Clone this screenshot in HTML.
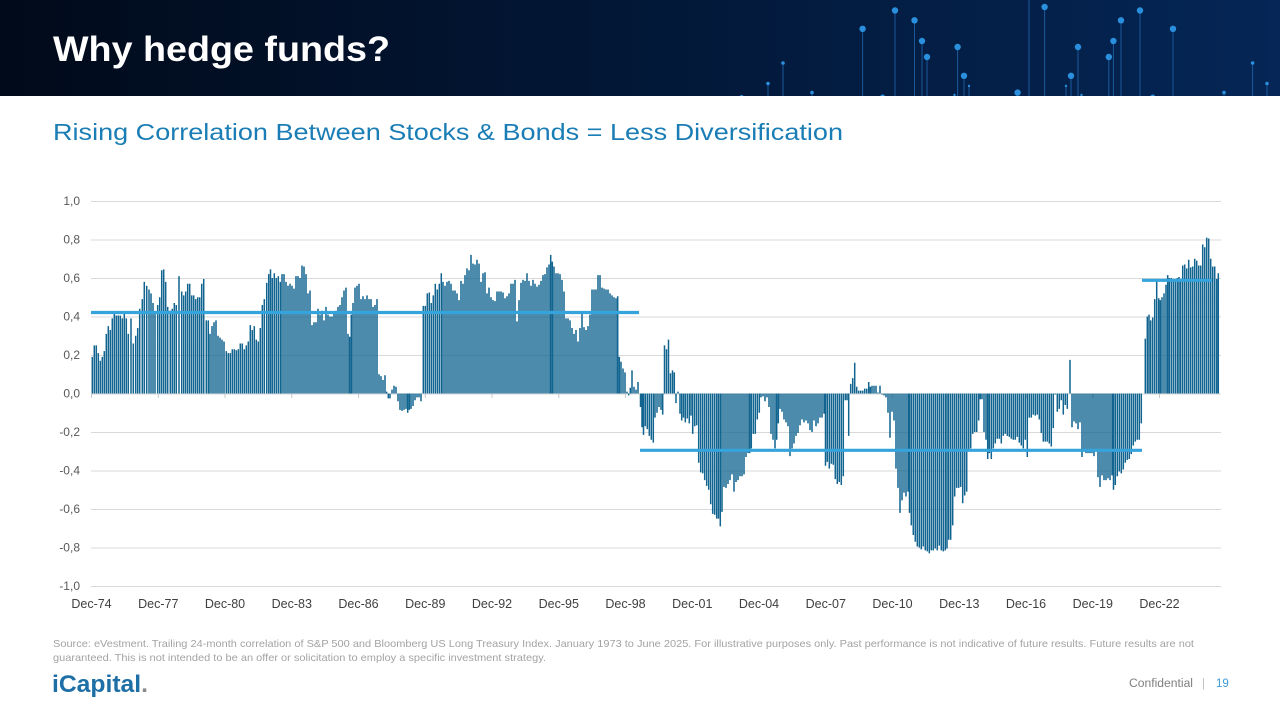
<!DOCTYPE html>
<html><head><meta charset="utf-8"><style>
html,body{margin:0;padding:0;background:#fff;width:1280px;height:720px;overflow:hidden}
svg{display:block}
text{font-family:"Liberation Sans",Arial,sans-serif}
</style></head><body>
<svg width="1280" height="720" viewBox="0 0 1280 720" xmlns="http://www.w3.org/2000/svg">
<defs><linearGradient id="hg" x1="0" x2="1" y1="0" y2="0"><stop offset="0" stop-color="#010a1a"/><stop offset=".45" stop-color="#021634"/><stop offset="1" stop-color="#052656"/></linearGradient></defs>
<rect width="1280" height="96" fill="url(#hg)"/>
<g stroke="#1d5fa4" stroke-width="1" opacity=".9">
<path d="M862.6 96V28.8M895 96V10.5M914.5 96V20.3M922 96V41M927 96V57M957.6 96V47M964 96V75.8M1017.6 96V92.6M1044.6 96V7M1071 96V75.8M1078 96V47M1108.8 96V57M1113.4 96V41M1121 96V20.3M1140 96V10.5M1173 96V28.8M768 96V83.5M783 96V63M812 96V92.6M1224 96V92.6M1252.6 96V63M1267 96V83.5M954.5 96V95M969 96V86M1066 96V86M1081.5 96V95M1029 96V0"/>
</g>
<g fill="#2a8fdc">
<circle cx="862.6" cy="28.8" r="3.2"/><circle cx="895" cy="10.5" r="3.2"/><circle cx="914.5" cy="20.3" r="3.2"/><circle cx="922" cy="41" r="3.2"/><circle cx="927" cy="57" r="3.2"/><circle cx="957.6" cy="47" r="3.2"/><circle cx="964" cy="75.8" r="3.2"/><circle cx="1017.6" cy="92.6" r="3.2"/><circle cx="1044.6" cy="7" r="3.2"/><circle cx="1071" cy="75.8" r="3.2"/><circle cx="1078" cy="47" r="3.2"/><circle cx="1108.8" cy="57" r="3.2"/><circle cx="1113.4" cy="41" r="3.2"/><circle cx="1121" cy="20.3" r="3.2"/><circle cx="1140" cy="10.5" r="3.2"/><circle cx="1173" cy="28.8" r="3.2"/>
<circle cx="768" cy="83.5" r="1.8"/><circle cx="783" cy="63" r="1.8"/><circle cx="812" cy="92.6" r="1.8"/><circle cx="1224" cy="92.6" r="1.8"/><circle cx="1252.6" cy="63" r="1.8"/><circle cx="1267" cy="83.5" r="1.8"/>
<circle cx="954.5" cy="95" r="1.2"/><circle cx="969" cy="86" r="1.2"/><circle cx="1066" cy="86" r="1.2"/><circle cx="1081.5" cy="95" r="1.2"/>
<circle cx="741.6" cy="97" r="2"/><circle cx="882.6" cy="97" r="2.5"/><circle cx="1152.7" cy="97" r="2.5"/>
</g>
<rect y="96" width="1280" height="624" fill="#fff"/>
<text x="53" y="61" font-weight="bold" font-size="35" fill="#fff" textLength="337" lengthAdjust="spacingAndGlyphs">Why hedge funds?</text>
<text x="53" y="140" font-size="23" fill="#1a7db5" textLength="790" lengthAdjust="spacingAndGlyphs">Rising Correlation Between Stocks &amp; Bonds = Less Diversification</text>

<!-- gridlines -->
<g stroke="#d9d9d9" stroke-width="1">
<path d="M91 201.5H1221M91 240H1221M91 278.5H1221M91 317H1221M91 355.5H1221M91 394H1221M91 432.5H1221M91 471H1221M91 509.5H1221M91 548H1221M91 586.5H1221"/>
</g>
<g stroke="#c8c8c8" stroke-width="1">
<path d="M91.5 394V398M158.3 394V398M225 394V398M291.8 394V398M358.5 394V398M425.3 394V398M492 394V398M558.8 394V398M625.5 394V398M692.3 394V398M759 394V398M825.8 394V398M892.5 394V398M959.3 394V398M1026 394V398M1092.8 394V398M1159.5 394V398"/>
</g>
<g font-size="12" fill="#595959" text-anchor="end">
<text x="80" y="205">1,0</text><text x="80" y="243.5">0,8</text><text x="80" y="282">0,6</text><text x="80" y="320.5">0,4</text><text x="80" y="359">0,2</text><text x="80" y="397.5">0,0</text><text x="80" y="436">-0,2</text><text x="80" y="474.5">-0,4</text><text x="80" y="513">-0,6</text><text x="80" y="551.5">-0,8</text><text x="80" y="590">-1,0</text>
</g>
<g font-size="12.5" fill="#404040" text-anchor="middle">
<text x="91.5" y="608">Dec-74</text><text x="158.3" y="608">Dec-77</text><text x="225" y="608">Dec-80</text><text x="291.8" y="608">Dec-83</text><text x="358.5" y="608">Dec-86</text><text x="425.3" y="608">Dec-89</text><text x="492" y="608">Dec-92</text><text x="558.8" y="608">Dec-95</text><text x="625.5" y="608">Dec-98</text><text x="692.3" y="608">Dec-01</text><text x="759" y="608">Dec-04</text><text x="825.8" y="608">Dec-07</text><text x="892.5" y="608">Dec-10</text><text x="959.3" y="608">Dec-13</text><text x="1026" y="608">Dec-16</text><text x="1092.8" y="608">Dec-19</text><text x="1159.5" y="608">Dec-22</text>
</g>

<!-- bars -->
<g transform="translate(0 393.5) scale(1 -192.5)">
<path fill="none" stroke="#11648f" stroke-width="1.5" vector-effect="non-scaling-stroke" d="M92.3 0V.19M94.3 0V.25M96.3 0V.25M98.3 0V.21M100.3 0V.17M102.3 0V.19M104.3 0V.22M106.3 0V.31M108.3 0V.35M110.3 0V.33M112.3 0V.39M114.3 0V.415M116.3 0V.405M118.3 0V.405M120.3 0V.405M122.3 0V.39M124.3 0V.415M126.3 0V.39M128.3 0V.31M131 0V.39M133.3 0V.26M135.7 0V.3M137.7 0V.34M139.7 0V.44M142.3 0V.49M144.3 0V.58M146.7 0V.56M149 0V.54M151 0V.52M153 0V.47M155 0V.42M157.7 0V.46M159.7 0V.5M161.7 0V.64M163.7 0V.645M165.7 0V.58M167.7 0V.45M170.3 0V.43M172.3 0V.44M174.3 0V.47M176.3 0V.46M179 0V.61M181.7 0V.53M183.7 0V.51M185.7 0V.53M187.7 0V.57M189.7 0V.57M191.7 0V.51M193.7 0V.51M195.7 0V.49M197.7 0V.5M199.7 0V.5M201.7 0V.57M203.7 0V.595M206.3 0V.38M208.3 0V.38M210 0V.31M212 0V.35M214 0V.37M216 0V.38M218 0V.3M220 0V.29M222 0V.28M224 0V.27M226.3 0V.22M228.3 0V.21M230.3 0V.21M232.3 0V.23M234.3 0V.23M236.3 0V.225M238.3 0V.23M240.3 0V.26M242.3 0V.26M244.3 0V.23M246.3 0V.25M248.3 0V.27M250.3 0V.355M252.3 0V.33M254.3 0V.35M256.3 0V.28M258.3 0V.27M260.3 0V.34M262.3 0V.46M264.3 0V.49M266.7 0V.575M268.7 0V.62M270.5 0V.645M272.3 0V.6M274.3 0V.625M276.3 0V.6M278.3 0V.61M280.3 0V.58M282 0V.62M284 0V.62M286 0V.58M288 0V.56M290 0V.57M292 0V.56M294 0V.545M296 0V.61M298 0V.61M300 0V.6M302 0V.665M304 0V.66M306 0V.62M308 0V.52M310 0V.535M312 0V.355M314 0V.37M316 0V.37M318 0V.44M320 0V.41M322 0V.43M324 0V.38M326 0V.45M328 0V.41M330 0V.4M332 0V.4M334 0V.42M336 0V.43M338 0V.45M340 0V.46M342 0V.5M344 0V.535M346 0V.55M348 0V.31M349.7 0V.295M351.3 0V.41M353 0V.47M355 0V.55M357 0V.56M359 0V.57M361 0V.49M363 0V.505M365 0V.49M367 0V.51M369 0V.49M371 0V.49M373 0V.45M375 0V.46M377 0V.49
M379 0V.1M381 0V.09M383 0V.07M385 0V.095M386.7 0V.01M388.3 0V-.025M390 0V-.025M392 0V.02M394 0V.04M396 0V.035M398 0V-.04M400 0V-.085M402 0V-.09M404 0V-.085M406 0V-.08M407.7 0V-.1M409.3 0V-.085M411 0V-.08M413 0V-.065M415 0V-.035M417 0V-.02M419 0V-.02M421 0V-.04M423.3 0V.455M425.3 0V.455M427.3 0V.52M429.3 0V.525M431.3 0V.47M433.3 0V.51M435.3 0V.57M437.3 0V.54M439.3 0V.57M441.3 0V.625M443 0V.58M445 0V.56M447 0V.58M449 0V.585M451 0V.57M453 0V.535M455 0V.535M457 0V.52M459 0V.485M461 0V.585M463 0V.57M465 0V.615M467 0V.65M469 0V.64M471 0V.72M473 0V.675M475 0V.67M477 0V.695M479 0V.675M481 0V.58M483 0V.625M485 0V.63M487 0V.52M489 0V.55M491 0V.5M493 0V.485M495 0V.48M497 0V.53M499 0V.53M501 0V.53M503 0V.525M505 0V.495M507 0V.505M509 0V.52M511 0V.57M513 0V.57M515 0V.59M517 0V.375M519 0V.485M521 0V.575M523 0V.59M525 0V.585M527 0V.625M529 0V.585M531 0V.56M533 0V.59M535 0V.57M537 0V.555M539 0V.565M541 0V.585M543 0V.615M545 0V.62M547 0V.655M549 0V.67M550.7 0V.72M552.3 0V.685M554 0V.66M556 0V.625M558 0V.625M560 0V.62M562 0V.59M564 0V.53M566 0V.39M568 0V.39M570 0V.38M572 0V.34M574 0V.31M576 0V.33M578 0V.27M580 0V.34M582 0V.42M584 0V.345M586 0V.33M588 0V.35M590 0V.41M592 0V.54M594 0V.54M596 0V.54M598 0V.615M600 0V.615M602 0V.55M604 0V.545M606 0V.54M608 0V.54M610 0V.52M612 0V.51M614 0V.5M616 0V.495M617.7 0V.505M619.3 0V.19M621 0V.165M623 0V.13M625 0V.11M627 0V.01M628.7 0V-.01M630.3 0V.03M632 0V.12M634 0V.035M636 0V.02M638 0V.06
M640.5 0V-.07M642 0V-.175M643.5 0V-.215M645.3 0V-.17M647.3 0V-.185M649.3 0V-.22M651.3 0V-.24M653.3 0V-.255M655 0V-.125M657 0V-.1M659 0V-.07M661 0V-.085M662.7 0V-.11M664.5 0V.25M666.5 0V.23M668.5 0V.28M670.5 0V.105M672.5 0V.12M674.3 0V.11M676 0V-.05M678 0V.01M680 0V-.105M681.7 0V-.14M683.5 0V-.125M685.3 0V-.15M687.3 0V-.13M689.3 0V-.155M691 0V-.115M692.7 0V-.21M694.7 0V-.17M696.7 0V-.165M698.7 0V-.36M700.7 0V-.41M702.7 0V-.415M704.7 0V-.45M706.7 0V-.48M708.7 0V-.5M710.7 0V-.575M712.7 0V-.625M714.7 0V-.63M716.7 0V-.65M718.5 0V-.65M720.3 0V-.69M722 0V-.615M724 0V-.485M726 0V-.49M728 0V-.47M730 0V-.45M732 0V-.42M734 0V-.51M736 0V-.46M738 0V-.45M740 0V-.43M742 0V-.43M744 0V-.42M746 0V-.33M748 0V-.31M749.7 0V-.31M751.3 0V-.285M753.3 0V-.21M755.3 0V-.21M757.3 0V-.135M759.3 0V-.1M761 0V-.02M763 0V-.015M765 0V-.04M767 0V-.02M769 0V-.07M771 0V-.21M773 0V-.24M775 0V-.285M776.7 0V-.24M778.3 0V-.155M780 0V-.08M782 0V-.095M784 0V-.135M786 0V-.15M788 0V-.17M790 0V-.325M792 0V-.285M794 0V-.26M796 0V-.22M798 0V-.205M800 0V-.165M802 0V-.135M804 0V-.15M806 0V-.14M808 0V-.155M810 0V-.19M812 0V-.2M814 0V-.14M816 0V-.17M818 0V-.155M820 0V-.125M822 0V-.125M824 0V-.105M825.5 0V-.375M827.3 0V-.355M829.3 0V-.39M831.3 0V-.365M833.3 0V-.37M835.3 0V-.445M837.3 0V-.47M839.3 0V-.46M841.3 0V-.475M843.3 0V-.43M845.3 0V-.035M847 0V-.035M848.7 0V-.22M850.7 0V.05M852.7 0V.08M854.7 0V.16M856.7 0V.035M858.7 0V.015M860.7 0V.015M862.7 0V.015M864.7 0V.025M866.7 0V.025M868.7 0V.06M870.3 0V.035M872 0V.04M874 0V.04M876 0V.04M878 0V.005M880 0V.04
M882 0V-.005M884 0V-.01M886 0V-.02M888 0V-.1M890 0V-.23M892 0V-.095M894 0V-.14M896 0V-.39M898 0V-.49M900 0V-.62M902 0V-.555M904 0V-.515M906 0V-.535M908 0V-.51M909.5 0V-.62M911.3 0V-.685M913.3 0V-.735M915.3 0V-.77M917.3 0V-.795M919.3 0V-.8M921.3 0V-.81M923.3 0V-.795M925.3 0V-.815M927.3 0V-.82M929.3 0V-.83M931.3 0V-.815M933.3 0V-.815M935.3 0V-.805M937.3 0V-.815M939.3 0V-.79M941.3 0V-.815M943.3 0V-.82M945.3 0V-.815M947 0V-.805M948.7 0V-.76M950.7 0V-.76M952.7 0V-.685M954.7 0V-.535M956.7 0V-.49M958.7 0V-.49M960.7 0V-.485M962.7 0V-.57M964.7 0V-.53M966.7 0V-.51M968.7 0V-.295M970.7 0V-.285M972.7 0V-.21M974.7 0V-.2M976.7 0V-.2M978.7 0V-.14M980.3 0V-.03M982 0V-.03M984 0V-.2M986 0V-.24M987.7 0V-.34M989.3 0V-.31M991.3 0V-.34M993.3 0V-.285M995.3 0V-.26M997.3 0V-.235M999.3 0V-.235M1001.3 0V-.26M1003.3 0V-.22M1005.3 0V-.21M1007.3 0V-.22M1009.3 0V-.225M1011.3 0V-.235M1013.3 0V-.24M1015.3 0V-.24M1017.3 0V-.225M1019.3 0V-.255M1021.3 0V-.27M1023.3 0V-.285M1025.3 0V-.24M1027.3 0V-.33M1029.3 0V-.125M1031.3 0V-.125M1033.3 0V-.11M1035.3 0V-.115M1037.3 0V-.11M1039.3 0V-.135M1041.3 0V-.205M1043.3 0V-.25M1045.3 0V-.25M1047.3 0V-.25M1049.3 0V-.26M1051.3 0V-.275M1053.3 0V-.18M1055.3 0V-.005M1057.3 0V-.095M1059.3 0V-.08M1061.3 0V-.035M1063.3 0V-.11M1065.3 0V-.06M1067.3 0V-.08M1070 0V.175M1072 0V-.175M1074 0V-.145M1076 0V-.155M1078 0V-.185M1080 0V-.15M1082 0V-.33M1084 0V-.295M1086 0V-.31M1088 0V-.31M1090 0V-.31M1092 0V-.31M1094 0V-.325M1096 0V-.3M1098 0V-.435M1100 0V-.485M1102 0V-.425M1104 0V-.45M1106 0V-.45M1108 0V-.44M1110 0V-.45M1112 0V-.425M1113.5 0V-.5M1115.3 0V-.475M1117.3 0V-.43M1119.3 0V-.405M1121.3 0V-.415M1123.3 0V-.395M1125.3 0V-.36M1127.3 0V-.345M1129.3 0V-.34M1131.3 0V-.315M1133.3 0V-.27M1135.3 0V-.25M1137.3 0V-.24M1139.3 0V-.24M1141.3 0V-.155
M1145.3 0V.285M1147.3 0V.4M1149 0V.41M1150.7 0V.38M1152.7 0V.395M1154.7 0V.49M1156.7 0V.585M1158.7 0V.495M1160.3 0V.485M1162 0V.5M1164 0V.52M1166 0V.565M1167.7 0V.615M1169.3 0V.6M1171.3 0V.6M1173.3 0V.59M1175.3 0V.595M1177.3 0V.6M1179 0V.605M1180.7 0V.595M1182.7 0V.665M1184.7 0V.67M1186.7 0V.65M1188.7 0V.695M1190.7 0V.655M1192.7 0V.66M1194.7 0V.7M1196.7 0V.69M1198.7 0V.665M1200.7 0V.665M1202.7 0V.775M1204.7 0V.76M1206.7 0V.81M1208.7 0V.805M1210.7 0V.7M1212.7 0V.66M1214.7 0V.66M1216.7 0V.595M1218.3 0V.625"/>
</g>

<!-- mean lines -->
<g stroke="#35a3dc" stroke-width="3.2">
<path d="M91 312.5H639M640 450.3H1142M1142 280.3H1212"/>
</g>

<!-- footer -->
<g font-size="10.5" fill="#a3a3a3">
<text x="53" y="647" textLength="1141" lengthAdjust="spacingAndGlyphs">Source: eVestment. Trailing 24-month correlation of S&amp;P 500 and Bloomberg US Long Treasury Index. January 1973 to June 2025.  For illustrative purposes only. Past performance is not indicative of future results. Future results are not</text>
<text x="53" y="661" textLength="493" lengthAdjust="spacingAndGlyphs">guaranteed. This is not intended to be an offer or solicitation to employ a specific investment strategy.</text>
</g>
<text x="52" y="692" font-size="24" font-weight="bold" fill="#1d6fa5" textLength="96" lengthAdjust="spacingAndGlyphs">iCapital<tspan fill="#8a8a8a">.</tspan></text>
<text x="1129" y="687" font-size="11.5" fill="#7f7f7f" textLength="64" lengthAdjust="spacingAndGlyphs">Confidential</text>
<text x="1202" y="687" font-size="11.5" fill="#bfbfbf">|</text>
<text x="1216" y="687" font-size="11.5" fill="#3c9ad6">19</text>
</svg>
</body></html>
